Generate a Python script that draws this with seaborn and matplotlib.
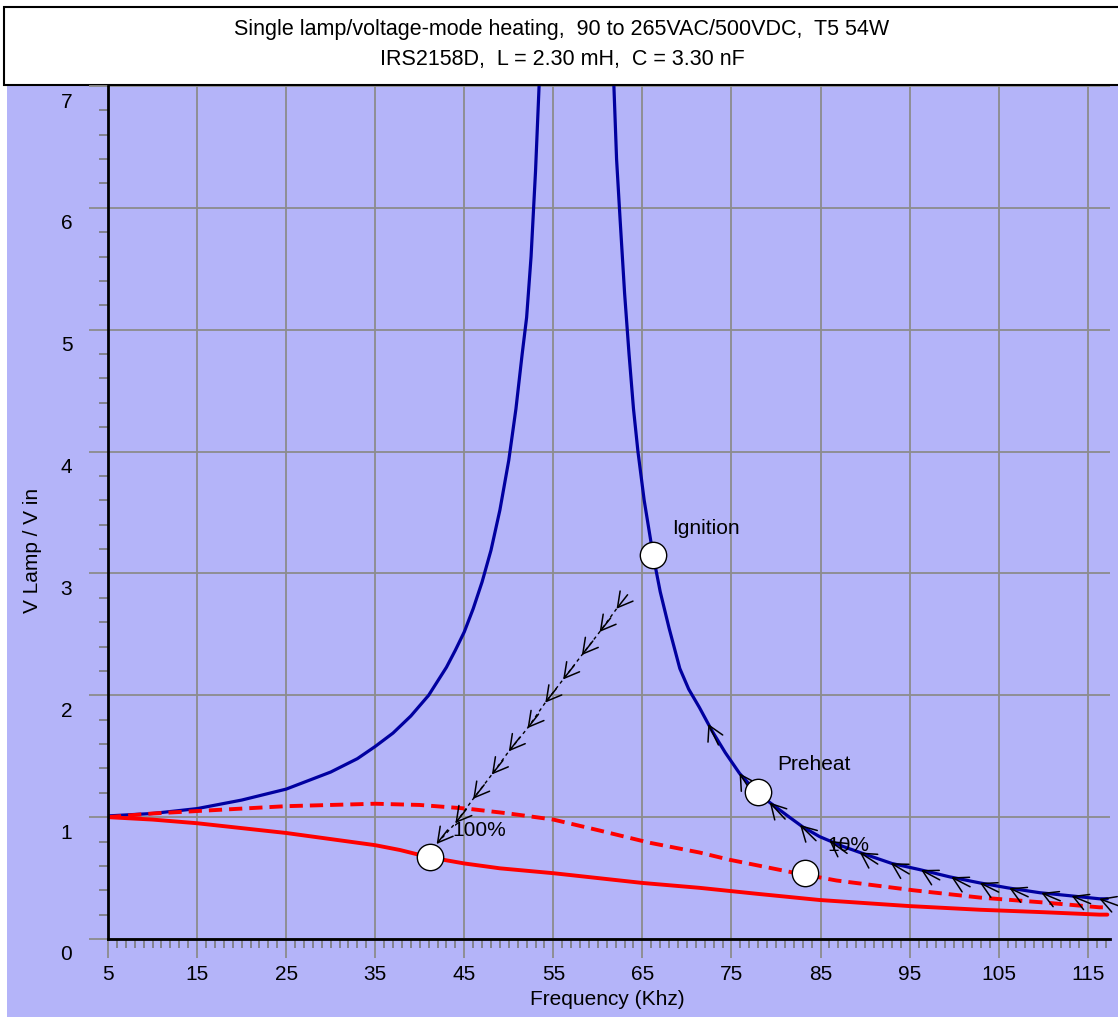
import matplotlib
matplotlib.use("Agg")

import matplotlib.pyplot as plt
import matplotlib.transforms as mtransforms
from matplotlib.patches import Rectangle
import numpy as np
import pandas as pd
import seaborn as sns

# curve readings (frequency in kHz, ratio V lamp / V in)
blue_left_f = [5, 10, 15, 20, 25, 30, 33, 35, 37, 39, 41, 43, 44, 45, 46, 47, 48, 49, 50,
               50.8, 51.5, 52.0, 52.5, 53.0, 53.4]
blue_left_v = [1.01, 1.03, 1.07, 1.14, 1.23, 1.37, 1.48, 1.58, 1.69, 1.83, 2.00, 2.23, 2.37,
               2.52, 2.71, 2.93, 3.19, 3.52, 3.93, 4.35, 4.8, 5.1, 5.6, 6.3, 7.0]
blue_right_f = [61.8, 62.1, 62.5, 63.0, 63.5, 64.0, 64.5, 65.2, 66.2, 67.0, 68.0, 69.2, 70.2,
                71.4, 72.8, 74.3, 75.9, 77.5, 79.3, 81.5, 83.0, 84.9, 87.5, 90.2, 93.0, 96.1,
                99.5, 102.9, 106.0, 109.6, 113.0, 116.3, 117.2]
blue_right_v = [7.0, 6.4, 5.9, 5.3, 4.8, 4.35, 4.0, 3.6, 3.15, 2.85, 2.55, 2.22, 2.05,
                1.90, 1.71, 1.53, 1.36, 1.23, 1.12, 1.00, 0.92, 0.84, 0.76, 0.69, 0.62, 0.57,
                0.51, 0.46, 0.42, 0.38, 0.355, 0.33, 0.33]

red_f = [5, 10, 15, 20, 25, 30, 35, 37.8, 41.1, 45, 49.0, 55, 60, 65, 71.4, 78, 84.9, 95,
         102.9, 110, 116.3, 117.2]
red_v = [1.0, 0.98, 0.95, 0.91, 0.87, 0.82, 0.77, 0.73, 0.67, 0.62, 0.58, 0.54, 0.50, 0.46,
         0.42, 0.37, 0.32, 0.27, 0.24, 0.22, 0.20, 0.20]

dash_f = [5, 10, 15, 20, 25, 30, 35, 40, 45.3, 50, 55, 60.2, 65.8, 71.4, 74.8, 81.6, 86.8,
          95.4, 102.9, 110, 116.3, 117.2]
dash_v = [1.0, 1.03, 1.05, 1.07, 1.09, 1.10, 1.11, 1.10, 1.07, 1.03, 0.98, 0.89, 0.79, 0.71,
          0.65, 0.55, 0.48, 0.40, 0.34, 0.30, 0.26, 0.26]

# operating points
point_names = ["Ignition", "Preheat", "100%", "10%"]
point_f = [66.2, 78.0, 41.1, 83.2]
point_v = [3.15, 1.21, 0.67, 0.54]
label_f = [68.3, 80.1, 43.7, 85.8]
label_v = [3.37, 1.43, 0.89, 0.77]

# arrow marks
diag_f = [62.1, 60.2, 58.2, 56.1, 54.1, 52.1, 50.0, 48.1, 46.0, 44.0, 41.9]
diag_v = [2.71, 2.52, 2.33, 2.13, 1.94, 1.73, 1.54, 1.35, 1.15, 0.95, 0.78]
curve_arrow_f = [72.4, 75.9, 79.3, 82.7, 86.0, 89.4, 92.9, 96.3, 99.7, 102.9, 106.2, 109.8, 113.2, 116.3]

x_ticks = [5, 15, 25, 35, 45, 55, 65, 75, 85, 95, 105, 115]
y_ticks = [0, 1, 2, 3, 4, 5, 6, 7]

BG = "#b4b4f9"
NAVY = "#0000a0"
GRID = "#8c8c8c"
FS = 15

sns.set_theme(style="white")
plt.rcParams["font.family"] = ["Liberation Sans", "DejaVu Sans"]

W, H = 1118, 1017
fig = plt.figure(figsize=(W / 100, H / 100), dpi=100, facecolor="white")
fig.patches.append(Rectangle((7 / W, 0), 1 - 7 / W, (H - 85) / H,
                             transform=fig.transFigure, facecolor=BG, edgecolor="none", zorder=-10))
fig.patches.append(Rectangle((4 / W, (H - 85) / H), 1, 78 / H,
                             transform=fig.transFigure, facecolor="white", edgecolor="black",
                             lw=1.5, zorder=-9))
fig.text(562 / W, 1 - 30 / H, "Single lamp/voltage-mode heating,  90 to 265VAC/500VDC,  T5 54W",
         ha="center", va="center", fontsize=15.5, color="black")
fig.text(562 / W, 1 - 60 / H, "IRS2158D,  L = 2.30 mH,  C = 3.30 nF",
         ha="center", va="center", fontsize=15.5, color="black")

ax = fig.add_axes([108 / W, (H - 939) / H, (1110 - 108) / W, (939 - 86) / H])
ax.set_facecolor(BG)

left_df = pd.DataFrame({"f": blue_left_f, "v": blue_left_v})
right_df = pd.DataFrame({"f": blue_right_f, "v": blue_right_v})
red_df = pd.DataFrame({"f": red_f, "v": red_v})
dash_df = pd.DataFrame({"f": dash_f, "v": dash_v})

sns.lineplot(data=left_df, x="f", y="v", ax=ax, color=NAVY, lw=2.3, sort=False, estimator=None, zorder=3)
sns.lineplot(data=right_df, x="f", y="v", ax=ax, color=NAVY, lw=2.3, sort=False, estimator=None, zorder=3)
sns.lineplot(data=red_df, x="f", y="v", ax=ax, color="red", lw=2.8, sort=False, estimator=None, zorder=3)
sns.lineplot(data=dash_df, x="f", y="v", ax=ax, color="red", lw=2.8, sort=False, estimator=None, zorder=3)
ax.lines[-1].set_dashes((3.4, 1.8))

ARROW = dict(arrowstyle="->,head_length=0.75,head_width=0.42", color="black", lw=1.1,
             mutation_scale=14, shrinkA=0, shrinkB=0)

# dashed guide from ignition down to 100%
ax.plot(diag_f, diag_v, color="black", lw=1.0, ls=(0, (2.5, 2.5)), zorder=4)
for f, v in zip(diag_f, diag_v):
    ax.annotate("", xy=(f, v), xytext=(11, 14), textcoords="offset pixels",
                arrowprops=ARROW, zorder=5)

# arrows along the right branch
px_f = 1002 / 112.5
px_v = 853 / 7.0
for f in curve_arrow_f:
    v = np.interp(f, blue_right_f, blue_right_v)
    dv = np.interp(f + 0.5, blue_right_f, blue_right_v) - np.interp(f - 0.5, blue_right_f, blue_right_v)
    vec = np.array([px_f, px_v * dv])
    vec = vec / np.hypot(*vec) * 17
    ax.annotate("", xy=(f, v), xytext=(vec[0] + 2, vec[1] - 6), textcoords="offset pixels",
                arrowprops=ARROW, zorder=5)

ax.plot(point_f, point_v, ls="none", marker="o", ms=19, mfc="white", mec="black", mew=1.0, zorder=6)
for name, f, v in zip(point_names, label_f, label_v):
    ax.text(f, v, name, ha="left", va="center", fontsize=FS, color="black", zorder=7)

ax.set_xlim(5, 117.5)
ax.set_ylim(0, 7)
ax.set_xticks(x_ticks)
ax.set_xticklabels([str(t) for t in x_ticks])
ax.set_xticks(np.arange(5, 118, 1), minor=True)
ax.set_yticks(y_ticks)
ax.set_yticklabels([str(t) for t in y_ticks])
ax.set_yticks(np.arange(0, 7.01, 0.2), minor=True)

ax.grid(True, which="major", color=GRID, lw=1.3, zorder=1)
ax.set_axisbelow(True)
ax.tick_params(which="major", direction="out", length=13.7, width=1.3, color=GRID,
               labelsize=FS, labelcolor="black", bottom=True, left=True)
ax.tick_params(axis="x", which="major", pad=5)
ax.tick_params(axis="y", which="major", pad=12)
ax.tick_params(which="minor", direction="out", length=6.5, width=1.2, color="#7a7a7a",
               bottom=True, left=True)

for side in ["top", "right"]:
    ax.spines[side].set_visible(False)
for side in ["left", "bottom"]:
    ax.spines[side].set_color("black")
    ax.spines[side].set_linewidth(2)
    ax.spines[side].set_zorder(8)

offset = mtransforms.ScaledTranslation(0, -0.14, fig.dpi_scale_trans)
for tick in ax.yaxis.get_major_ticks():
    tick.label1.set_transform(tick.label1.get_transform() + offset)

ax.set_xlabel("Frequency (Khz)", fontsize=FS, color="black")
ax.set_ylabel("V Lamp / V in", fontsize=FS, color="black")
ax.xaxis.set_label_coords(0.498, -0.0715)
ax.yaxis.set_label_coords(-0.0758, 0.456)
ax.xaxis.label.set_va("center")
ax.yaxis.label.set_va("center")

fig.savefig("out.png", dpi=100, facecolor="white")
